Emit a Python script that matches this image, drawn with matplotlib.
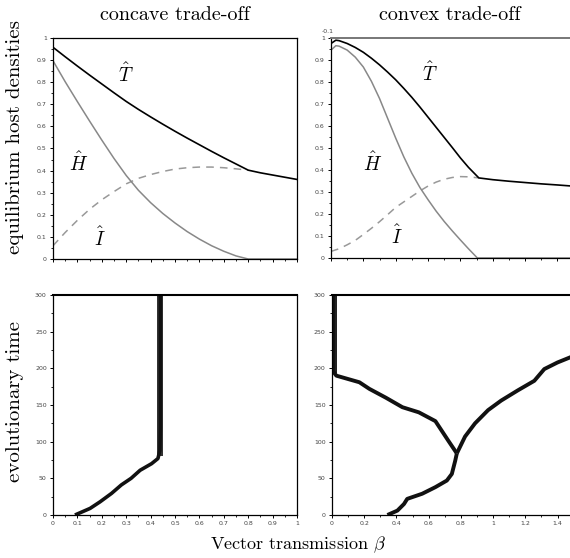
import matplotlib
matplotlib.use('Agg')
import matplotlib.pyplot as plt
from matplotlib.ticker import MultipleLocator, FuncFormatter

plt.rcParams['mathtext.fontset'] = 'cm'
plt.rcParams['axes.unicode_minus'] = False

# ---------------- data: concave trade-off ----------------
beta_cc = [0.0, 0.05, 0.1, 0.15, 0.2, 0.25, 0.3, 0.35, 0.4, 0.45, 0.5,
           0.55, 0.6, 0.65, 0.7, 0.75, 0.8, 0.85, 0.9, 0.95, 1.0]
T_cc = [0.958, 0.915, 0.873, 0.832, 0.792, 0.752, 0.713, 0.677, 0.643, 0.610, 0.578,
        0.547, 0.517, 0.487, 0.458, 0.430, 0.402, 0.390, 0.380, 0.370, 0.360]
H_cc = [0.897, 0.802, 0.712, 0.624, 0.538, 0.455, 0.378, 0.311, 0.255, 0.206, 0.163,
        0.124, 0.090, 0.060, 0.035, 0.014, 0.0, 0.0, 0.0, 0.0, 0.0]
I_cc = [0.060, 0.120, 0.175, 0.225, 0.268, 0.305, 0.340, 0.365, 0.382, 0.396, 0.407,
        0.413, 0.416, 0.416, 0.413, 0.408, 0.402]

# ---------------- data: convex trade-off ----------------
beta_cv = [0.0, 0.03, 0.05, 0.1, 0.15, 0.2, 0.25, 0.3, 0.35, 0.4, 0.45, 0.5,
           0.55, 0.6, 0.65, 0.7, 0.75, 0.8, 0.85, 0.914,
           1.0, 1.1, 1.2, 1.3, 1.4, 1.49]
T_cv = [0.975, 0.990, 0.988, 0.975, 0.957, 0.935, 0.908, 0.878, 0.845, 0.810, 0.771, 0.730,
        0.686, 0.640, 0.594, 0.548, 0.502, 0.455, 0.412, 0.364,
        0.356, 0.349, 0.343, 0.337, 0.332, 0.327]
beta_H_cv = [0.0, 0.03, 0.05, 0.1, 0.15, 0.2, 0.25, 0.3, 0.35, 0.4, 0.45, 0.5,
             0.55, 0.6, 0.65, 0.7, 0.75, 0.8, 0.85, 0.905, 1.49]
H_cv = [0.945, 0.965, 0.963, 0.945, 0.913, 0.868, 0.803, 0.725, 0.635, 0.545, 0.460, 0.385,
        0.320, 0.265, 0.213, 0.166, 0.123, 0.082, 0.042, 0.0, 0.0]
beta_I_cv = [0.0, 0.05, 0.1, 0.15, 0.2, 0.25, 0.3, 0.35, 0.4, 0.45, 0.5, 0.55,
             0.6, 0.65, 0.7, 0.75, 0.8, 0.85, 0.914]
I_cv = [0.030, 0.042, 0.060, 0.080, 0.107, 0.135, 0.165, 0.197, 0.230, 0.255, 0.280, 0.305,
        0.327, 0.345, 0.358, 0.366, 0.370, 0.369, 0.364]

# ---------------- evolutionary trajectories ----------------
traj_cc_beta = [0.09, 0.152, 0.193, 0.24, 0.28, 0.32, 0.357, 0.404, 0.43, 0.438, 0.44, 0.44]
traj_cc_time = [0, 9, 18, 29.5, 41, 50, 61, 70, 77, 88, 120, 300]
band_cc_time = [80, 300]
band_cc_lo = [0.428, 0.428]
band_cc_hi = [0.452, 0.452]

stem_cv_beta = [0.344, 0.406, 0.447, 0.467, 0.56, 0.642, 0.713, 0.744, 0.765, 0.775]
stem_cv_time = [0, 6, 15, 22, 29, 38, 47, 56, 74, 84]
left_cv_beta = [0.775, 0.723, 0.642, 0.539, 0.437, 0.334, 0.232, 0.17, 0.027, 0.006, 0.006]
left_cv_time = [84, 101, 128, 140, 147, 160, 172, 181, 190, 196, 300]
right_cv_beta = [0.775, 0.826, 0.888, 0.969, 1.05, 1.154, 1.256, 1.318, 1.40, 1.49]
right_cv_time = [84, 107, 125, 143, 156, 170, 183, 199, 208, 216]
band_cv_time = [194, 300]
band_cv_lo = [0.0, 0.0]
band_cv_hi = [0.03, 0.03]

# ---------------- figure ----------------
fig = plt.figure(figsize=(5.70, 5.58), dpi=100)
W, H = 570.0, 558.0

def rect(l, t, r, b):
    return [l / W, 1 - b / H, (r - l) / W, (b - t) / H]

ax_tl = fig.add_axes(rect(53, 38, 297, 259))
ax_tr = fig.add_axes(rect(331, 38, 572, 258))
ax_bl = fig.add_axes(rect(53, 295, 297, 515))
ax_br = fig.add_axes(rect(332, 295, 572, 515))

fmt = FuncFormatter(lambda v, p: f'{v:g}')
tick_col = '#444444'

def style(ax, xmaj, xmin, ymaj, ymin, xlabels):
    ax.xaxis.set_major_locator(MultipleLocator(xmaj))
    ax.xaxis.set_minor_locator(MultipleLocator(xmin))
    ax.yaxis.set_major_locator(MultipleLocator(ymaj))
    ax.yaxis.set_minor_locator(MultipleLocator(ymin))
    ax.xaxis.set_major_formatter(fmt)
    ax.yaxis.set_major_formatter(fmt)
    ax.tick_params(which='major', length=2.5, width=0.7, labelsize=4.5,
                   labelcolor=tick_col, pad=2, direction='out')
    ax.tick_params(which='minor', length=1.5, width=0.6, direction='out')
    ax.tick_params(axis='x', labelbottom=xlabels)
    ax.tick_params(top=False, right=False, which='both')
    for s in ax.spines.values():
        s.set_linewidth(0.9)

# top-left: concave equilibria
ax = ax_tl
ax.plot(beta_cc[:len(I_cc)], I_cc, color='#999999', lw=1.1, ls=(0, (5, 4)))
ax.plot(beta_cc, H_cc, color='#888888', lw=1.1)
ax.plot(beta_cc, T_cc, color='black', lw=1.2)
ax.set_xlim(0, 1)
ax.set_ylim(0, 1)
style(ax, 0.1, 0.05, 0.1, 0.05, False)
ax.text(0.30, 0.835, r'$\hat{T}$', fontsize=14, ha='center', va='center')
ax.text(0.105, 0.435, r'$\hat{H}$', fontsize=14, ha='center', va='center')
ax.text(0.19, 0.095, r'$\hat{I}$', fontsize=14, ha='center', va='center')

# top-right: convex equilibria
ax = ax_tr
ax.plot(beta_I_cv, I_cv, color='#999999', lw=1.1, ls=(0, (5, 4)))
ax.plot(beta_H_cv, H_cv, color='#888888', lw=1.1)
ax.plot(beta_cv, T_cv, color='black', lw=1.2)
ax.set_xlim(0, 1.49)
ax.set_ylim(0, 1)
style(ax, 0.2, 0.1, 0.1, 0.05, False)
ax.spines['right'].set_visible(False)
ax.spines['top'].set_color('#777777')
ax.spines['top'].set_linewidth(1.4)
ax.text(-0.02, 1.03, '-0.1', fontsize=4.5, color=tick_col, ha='center', va='center',
        transform=ax.transData)
ax.text(0.61, 0.84, r'$\hat{T}$', fontsize=14, ha='center', va='center')
ax.text(0.26, 0.43, r'$\hat{H}$', fontsize=14, ha='center', va='center')
ax.text(0.405, 0.097, r'$\hat{I}$', fontsize=14, ha='center', va='center')

# bottom-left: concave evolution
ax = ax_bl
ax.fill_betweenx(band_cc_time, band_cc_lo, band_cc_hi, color='#333333', lw=0)
ax.plot(traj_cc_beta, traj_cc_time, color='#111111', lw=2.6, solid_capstyle='butt')
ax.set_xlim(0, 1)
ax.set_ylim(0, 300)
style(ax, 0.1, 0.05, 50, 25, True)
ax.spines['top'].set_linewidth(1.5)

# bottom-right: convex evolution
ax = ax_br
ax.fill_betweenx(band_cv_time, band_cv_lo, band_cv_hi, color='#222222', lw=0)
ax.plot(stem_cv_beta, stem_cv_time, color='#111111', lw=2.8, solid_capstyle='butt')
ax.plot(left_cv_beta, left_cv_time, color='#111111', lw=2.8, solid_capstyle='butt')
ax.plot(right_cv_beta, right_cv_time, color='#111111', lw=2.8, solid_capstyle='butt')
ax.set_xlim(0, 1.49)
ax.set_ylim(0, 300)
style(ax, 0.2, 0.1, 50, 25, True)
ax.spines['right'].set_visible(False)
ax.spines['top'].set_linewidth(1.5)

# figure texts
fig.text(175 / W, 1 - 15 / H, 'concave trade-off', fontfamily='cmr10', fontsize=14.5,
         ha='center', va='center')
fig.text(450 / W, 1 - 15 / H, 'convex trade-off', fontfamily='cmr10', fontsize=14.5,
         ha='center', va='center')
fig.text(15 / W, 1 - 137 / H, 'equilibrium host densities', fontfamily='cmr10', fontsize=15,
         ha='center', va='center', rotation=90)
fig.text(15 / W, 1 - 401 / H, 'evolutionary time', fontfamily='cmr10', fontsize=15,
         ha='center', va='center', rotation=90)
fig.text(298 / W, 1 - 545 / H, r'Vector transmission $\beta$', fontfamily='cmr10',
         fontsize=13, ha='center', va='center')

fig.savefig('out.png', dpi=100)
